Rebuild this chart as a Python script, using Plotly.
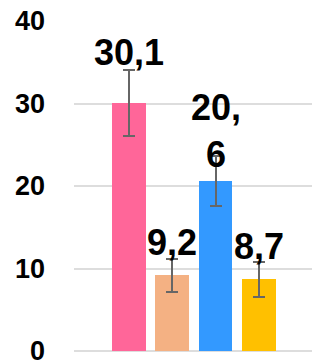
import plotly.graph_objects as go

categories = [0, 1, 2, 3]
values = [30.1, 9.2, 20.6, 8.7]
errors = [4.0, 2.0, 3.0, 2.1]
labels = ["30,1", "9,2", "20,<br>6", "8,7"]
colors = ["#FF6699", "#F4B183", "#3399FF", "#FFC000"]
tick_vals = [0, 10, 20, 30, 40]
tick_text = ["0", "10", "20", "30", "40"]

# label offsets (style only)
label_shift = [28, 10, 4, 10]

FONT = "Liberation Sans, Arial, sans-serif"

fig = go.Figure()
fig.add_trace(go.Bar(
    x=categories,
    y=values,
    width=0.78,
    marker=dict(color=colors, line=dict(width=0)),
    error_y=dict(type="data", array=errors, visible=True,
                 color="#666666", thickness=2, width=6),
    showlegend=False,
    hoverinfo="skip",
))

for x, v, t, s in zip(categories, values, labels, label_shift):
    fig.add_annotation(
        x=x, y=v, text=t, showarrow=False,
        xanchor="center", yanchor="bottom", yshift=s,
        font=dict(family=FONT, size=36, color="#000000", weight="bold"),
    )

fig.update_layout(
    width=312, height=363,
    margin=dict(l=74, r=0, t=21, b=12),
    paper_bgcolor="white",
    plot_bgcolor="white",
    bargap=0,
    xaxis=dict(range=[-1.27, 4.23], showticklabels=False, showgrid=False,
               zeroline=False, showline=False, fixedrange=True, automargin=False),
    yaxis=dict(range=[0, 40], tickvals=tick_vals, ticktext=tick_text,
               showgrid=True, gridcolor="#dddddd", gridwidth=2,
               zeroline=True, zerolinecolor="#dddddd", zerolinewidth=2,
               showline=False, ticks="", ticklabelstandoff=28,
               ticklabeloverflow="allow", automargin=False,
               tickfont=dict(family=FONT, size=27, color="#000000", weight="bold"),
               fixedrange=True),
)

fig.write_html(
    "out.html",
    config={"displayModeBar": False},
    post_script="document.body.style.margin='0';document.body.style.overflow='hidden';",
)
